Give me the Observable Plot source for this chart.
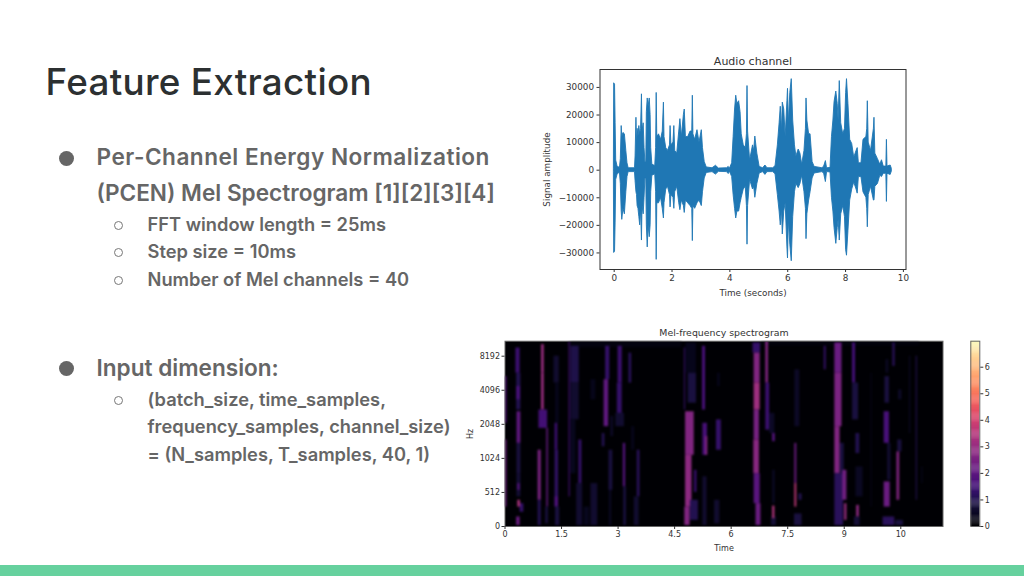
<!DOCTYPE html>
<html><head><meta charset="utf-8">
<script src="https://cdn.jsdelivr.net/npm/d3@7"></script>
<script src="https://cdn.jsdelivr.net/npm/@observablehq/plot@0.6"></script>
<style>
html,body{margin:0;padding:0;background:#fff;width:1024px;height:576px;overflow:hidden}
body{position:relative;font-family:Inter,Lato,sans-serif}
.t{position:absolute;line-height:0;white-space:nowrap;color:#666}
.h{font-size:36.8px;font-weight:500;color:#2c3031;left:45.5px;top:calc(95.7px - .364em);letter-spacing:.3px}
.a{font-size:22.6px;font-weight:600;color:#666;left:96.5px}
.b{font-size:18.3px;font-weight:600;color:#666;left:147.5px}
.dot{position:absolute;left:59.2px;width:15px;height:15px;border-radius:50%;background:#666}
.ring{position:absolute;left:114px;width:7px;height:7px;border-radius:50%;border:1px solid #777;box-sizing:content-box}
.bar{position:absolute;left:0;top:565px;width:1024px;height:11px;background:#66d19e}
.p{position:absolute}
.p svg{display:block;overflow:visible}
.melblur{filter:blur(1.1px)}
</style></head><body>
<div class="t h">Feature Extraction</div>
<div class="dot" style="top:150.8px"></div>
<div class="t a" style="top:calc(165px - .364em);letter-spacing:.5px">Per-Channel Energy Normalization</div>
<div class="t a" style="top:calc(201.5px - .364em)">(PCEN) Mel Spectrogram [1][2][3][4]</div>
<div class="ring" style="top:221px"></div>
<div class="t b" style="top:calc(230.7px - .364em)">FFT window length = 25ms</div>
<div class="ring" style="top:248px"></div>
<div class="t b" style="top:calc(258px - .364em)">Step size = 10ms</div>
<div class="ring" style="top:276px"></div>
<div class="t b" style="top:calc(285.7px - .364em)">Number of Mel channels = 40</div>
<div class="dot" style="top:361.2px"></div>
<div class="t a" style="top:calc(376px - .364em)">Input dimension:</div>
<div class="ring" style="top:396px"></div>
<div class="t b" style="top:calc(406px - .364em)">(batch_size, time_samples,</div>
<div class="t b" style="top:calc(433px - .364em)">frequency_samples, channel_size)</div>
<div class="t b" style="top:calc(460.7px - .364em)">= (N_samples, T_samples, 40, 1)</div>
<div class="bar"></div>
<div class="p" id="audio" style="left:530px;top:50px"></div>
<div class="p" id="mel" style="left:460px;top:325px"></div>
<div class="p" id="cbar" style="left:960px;top:325px"></div>
<script>
// Audio waveform envelope: [seconds, upper, lower]
const audioEnvelope = [
[-0.01,700,-700],[0,31500,-30000],[0.03,31000,-29500],[0.05,17000,-19000],[0.07,3500,-3500],[0.12,1200,-1500],[0.2,900,-900],[0.23,4000,-5000],[0.26,16000,-15000],[0.28,12000,-18000],[0.32,13500,-14000],[0.37,13000,-16000],[0.42,7000,-8000],[0.46,2500,-2500],[0.5,700,-700],[0.72,700,-700],
[0.74,5000,-4000],[0.77,19000,-8000],[0.79,9000,-9000],[0.81,15000,-13000],[0.84,12000,-14000],[0.87,16000,-17000],[0.9,13000,-20000],[0.93,15000,-14000],[0.96,27500,-25500],[0.98,14000,-13000],[1.02,17000,-16000],[1.05,8000,-10000],[1.08,3000,-3000],[1.11,3000,-3000],[1.13,21000,-20000],[1.16,26000,-28000],[1.19,23000,-20000],[1.23,26000,-24300],[1.26,20000,-20000],[1.28,8000,-8000],[1.32,2000,-2000],[1.42,1500,-1500],[1.45,8000,-8000],[1.47,28000,-32500],[1.49,12000,-12000],[1.55,13000,-12000],[1.62,11000,-10000],[1.68,14000,-14000],[1.72,24500,-17500],[1.74,12000,-12000],[1.8,8000,-7000],[1.86,7000,-6000],[1.93,9000,-9000],[1.95,16000,-13500],[1.98,9000,-9000],[2.05,10000,-10000],[2.08,16000,-14000],[2.11,7000,-8000],[2.18,6000,-6000],[2.25,14000,-12000],[2.29,18500,-14500],[2.34,12000,-11000],[2.41,20000,-13000],[2.44,22000,-15500],[2.48,12000,-11000],[2.56,12000,-12000],[2.64,14000,-13000],[2.7,14000,-14000],[2.72,27000,-25700],[2.74,13000,-13000],[2.8,11000,-14000],[2.88,14500,-12000],[2.95,10000,-11000],[3.03,14500,-13000],[3.07,8000,-8000],[3.13,3000,-3000],[3.2,1000,-1000],
[3.4,700,-700],[3.52,1600,-1600],[3.62,600,-600],[3.9,700,-700],[3.96,1200,-1400],[4,500,-500],[4.08,2500,-2500],[4.13,12000,-9000],[4.18,22000,-14000],[4.22,27000,-17500],[4.26,24000,-15000],[4.32,25000,-15000],[4.37,21000,-12000],[4.41,13000,-10000],[4.48,9000,-7000],[4.55,8000,-6000],[4.59,13000,-13000],[4.61,30500,-27000],[4.63,14000,-13000],[4.7,3500,-3500],[4.8,9000,-7000],[4.84,7000,-6000],[4.88,12200,-10000],[4.95,6000,-5000],[5.03,1200,-1200],[5.15,700,-700],[5.23,1700,-1700],[5.3,700,-700],[5.5,700,-700],[5.58,1500,-1500],[5.66,9000,-9000],[5.72,17000,-15000],[5.76,23000,-20000],[5.8,14000,-14000],[5.83,24500,-23300],[5.88,22000,-15000],[5.93,12000,-12000],[5.99,25000,-28000],[6.01,29500,-32000],[6.04,17000,-18000],[6.09,28000,-27000],[6.14,33000,-33000],[6.19,18000,-17000],[6.25,9000,-8000],[6.3,5000,-5000],[6.38,7500,-6500],[6.44,6000,-5000],[6.5,2000,-2000],[6.58,7000,-8000],[6.63,15000,-14000],[6.65,26000,-25000],[6.68,18000,-16000],[6.74,13000,-11000],[6.79,13000,-8000],[6.86,3000,-3000],[6.93,1200,-1200],[7.2,700,-700],[7.26,1300,-1300],[7.32,3300,-4300],[7.36,700,-700],[7.48,800,-800],[7.53,12000,-10000],[7.58,18000,-15000],[7.62,24700,-21000],[7.68,28500,-26700],[7.73,24000,-21000],[7.76,18000,-18000],[7.8,32300,-25500],[7.85,17000,-16000],[7.92,13000,-13000],[7.98,15000,-17000],[8.02,28000,-29000],[8.05,33000,-31000],[8.1,24000,-22000],[8.16,11000,-11000],[8.23,9500,-7000],[8.3,4500,-4500],[8.38,7000,-7000],[8.42,8000,-8500],[8.46,2500,-2500],[8.55,2500,-2500],[8.62,11000,-8000],[8.72,12000,-10000],[8.75,15000,-14000],[8.77,25000,-20700],[8.8,10000,-9000],[8.88,7000,-6000],[8.98,15000,-11000],[9,19000,-11000],[9.03,6000,-6000],[9.12,4000,-5000],[9.2,2000,-2000],[9.26,3600,-2500],[9.32,1300,-1300],[9.41,1300,-1300],[9.43,11000,-11500],[9.45,1300,-1300],[9.56,1700,-1700],[9.6,500,-500]
];
const audioXTicks = [0,2,4,6,8,10];
const audioYTicks = [-30000,-20000,-10000,0,10000,20000,30000];

// Spectrogram energy patches:
// [time start, time end, octave step low, octave step high, value]
const melPatches = [
// dim background washes
[1.75,4.7,5.25,5.44,0.2],[6.8,11,5.3,5.44,0.18],
// 0 - 1.5 s
[-0.01,0.05,3.03,4.4,1.8],[-0.01,0.05,0.57,2.54,2.3],
[0.29,0.4,4.5,5.24,1.4],[0.31,0.42,3.42,4.5,1],[0.31,0.41,3.72,4.11,1.6],[0.32,0.42,2.44,3.37,2],[0.32,0.42,1.55,2.44,0.8],[0.32,0.42,0.87,1.55,0.7],[0.34,0.4,1.06,1.26,1.8],[0.4,0.5,0.42,0.67,1.3],[0.34,0.41,0.57,0.77,3.3],[0.31,0.4,0.03,0.28,2.2],
[0.97,1.04,4.5,5.34,3],[0.97,1.04,3.42,4.5,3],[0.9,1.13,2.88,3.42,1.5],[1.11,1.15,0.57,2.88,2.1],[0.88,0.96,0.77,2.24,2.5],[0.88,0.96,0.03,0.77,1],[1.08,1.15,0.08,0.57,0.8],
[1.3,1.44,4.21,5.0,0.6],[1.34,1.44,3.03,4.21,0.35],[1.33,1.4,2.24,3.03,1.4],[1.33,1.42,0.57,2.24,1.2],[1.33,1.42,0.57,0.87,1.7],[1.34,1.45,0.03,0.57,0.8],
// 1.7 - 3.6 s
[1.75,1.97,4.21,5.29,0.9],[1.75,1.97,3.13,4.21,0.6],[1.75,1.88,1.55,3.13,0.4],[1.9,2.06,0.03,1.26,0.6],[1.96,2.04,1.26,2.54,1.3],[1.7,1.73,0.87,5.44,1.5],
[2.28,2.46,0.03,1.26,0.6],[2.1,2.24,0.03,0.57,0.4],[2.28,2.41,3.72,4.31,0.35],
[2.67,2.78,4.31,5.29,1.3],[2.63,2.75,2.93,4.31,2],[2.58,2.65,2.34,2.73,1],[2.76,2.86,1.06,2.24,0.8],[2.77,2.83,0.03,1.06,0.45],[2.81,2.88,2.64,3.23,0.5],
[3.0,3.11,4.21,5.29,1.4],[2.98,3.11,3.32,4.21,1.3],[2.94,3.17,2.93,3.32,0.6],[3.14,3.2,1.16,2.44,1.8],[3.15,3.22,0.03,1.16,0.8],
[3.29,3.36,4.21,5.09,1.1],[3.36,3.44,2.24,2.93,0.35],[3.51,3.58,0.87,2.24,1.1],[3.43,3.56,0.03,0.87,0.6],
// 4.7 - 5.8 s
[4.76,4.79,3.42,5.24,1.3],[4.8,5.08,4.5,5.39,0.35],[4.86,5.08,3.62,4.5,0.8],[4.79,5.02,2.09,3.37,2.6],[5.03,5.09,1.0,1.65,1.4],[4.79,4.96,0.57,2.09,2.8],[4.77,4.91,0.03,0.57,2.6],[4.92,5.13,0.18,0.77,1],
[5.24,5.32,3.42,5.29,1.6],[5.25,5.37,2.09,3.03,1.6],[5.32,5.38,2.09,2.64,2.6],[5.25,5.36,0.03,1.46,0.6],
[5.61,5.74,2.24,3.13,1.3],[5.64,5.71,4.11,4.5,0.35],[5.56,5.7,0.08,0.77,0.6],
// 6.5 - 7.9 s
[6.58,6.78,5.09,5.39,1.3],[6.61,6.77,4.21,5.09,2.6],[6.61,6.77,3.42,4.21,3.1],[6.61,6.75,2.54,3.42,2.4],[6.6,6.75,1.55,2.54,2.7],[6.61,6.77,0.67,1.55,1.9],[6.66,6.79,0.03,0.67,2.2],
[6.92,6.99,4.21,5.44,2.6],[6.92,7.02,2.83,4.21,1.4],[7.02,7.16,2.73,3.32,0.5],[7.1,7.17,2.49,2.73,1.8],[7.1,7.17,0.67,1.65,0.45],[7.07,7.2,0.03,0.28,0.7],[7.1,7.16,0.23,0.6,3.4],
[7.69,7.82,2.93,4.6,0.5],[7.69,7.74,1.26,2.44,2.2],[7.69,7.74,0.57,1.26,3.6],[7.68,7.88,0.03,0.37,0.8],[7.8,7.88,0.77,0.96,1],
// 8.4 - 11.1 s
[8.47,8.52,4.6,5.29,1.3],
[8.75,8.94,4.5,5.39,2.2],[8.75,8.94,2.93,4.5,2.5],[8.89,9,1.55,2.44,0.8],[8.75,8.89,1.55,2.93,2.6],[8.75,8.98,0.03,1.55,1.1],[8.96,9.07,0.77,1.65,2.3],[9.01,9.07,0.18,0.67,3],
[9.22,9.3,4.21,5.39,1.5],[9.22,9.38,3.13,4.21,0.8],[9.31,9.41,2.14,2.73,1],[9.31,9.5,0.87,1.75,0.45],[9.27,9.42,0.03,0.28,0.7],[9.33,9.4,0.28,0.62,2.8],[9.71,9.74,0.57,4.5,0.3],
[10.11,10.18,4.5,4.9,0.45],[10.08,10.2,3.62,4.4,0.8],[10.06,10.2,2.44,3.37,1.6],[10.15,10.24,1.36,2.44,0.6],[10.06,10.22,0.57,1.31,2.2],[10.03,10.34,0.03,0.28,1.1],
[10.29,10.35,4.7,5.39,1.1],[10.44,10.53,3.72,4.01,0.5],[10.42,10.53,2.19,2.54,0.8],[10.4,10.47,0.77,2.19,2.6],[10.37,10.57,0.03,0.18,0.8],
[10.73,10.76,2.73,5,0.5],[10.91,10.94,0.77,5,1],[11.06,11.09,1.26,1.75,0.4]
];
const melXTicks = [0,1.5,3,4.5,6,7.5,9,10.5];
const melXLabels = ["0","1.5","3","4.5","6","7.5","9","10"];
const melYTicks = [0,1,2,3,4,5];
const melYLabels = ["0","512","1024","2048","4096","8192"];
const colorTicks = [0,1,2,3,4,5,6];
const colorMax = 6.98;

const tickStyle = {fontFamily:"'DejaVu Sans',sans-serif", fontSize:"8.8px", color:"#333", background:"transparent"};
const ink = "#333";

document.getElementById("audio").append(Plot.plot({
  width:390,height:255,marginLeft:69.5,marginRight:14.5,marginTop:19,marginBottom:36,
  style:tickStyle,
  x:{domain:[-0.49,10.09]},
  y:{domain:[-36000,36500]},
  marks:[
    Plot.areaY(audioEnvelope,{x:d=>d[0],y1:d=>d[1],y2:d=>d[2],fill:"#1f77b4",stroke:"#1f77b4",strokeWidth:0.9}),
    Plot.frame({stroke:ink}),
    Plot.axisX({ticks:audioXTicks,tickSize:3,tickPadding:2,stroke:ink,fill:ink,tickFormat:d=>String(d),label:"Time (seconds)",labelAnchor:"center",labelOffset:26,labelArrow:"none"}),
    Plot.axisY({ticks:audioYTicks,tickSize:3,tickPadding:3,stroke:ink,fill:ink,tickFormat:d=>String(d).replace("-","\u2212"),label:"Signal amplitude",labelAnchor:"center",labelOffset:56,labelArrow:"none"}),
    Plot.text(["Audio channel"],{frameAnchor:"top",dy:-12,fontSize:11,fill:ink})
  ]
}));

const colorScale = {type:"linear",scheme:"magma",domain:[0,colorMax]};

const melPlot = Plot.plot({
  width:490,height:230,marginLeft:44.5,marginRight:7.5,marginTop:15.7,marginBottom:29,
  style:{...tickStyle,fontSize:"8px"},
  x:{domain:[0,11.62]},
  y:{domain:[0,5.44]},
  color:colorScale,
  marks:[
    Plot.frame({fill:"#000004",stroke:"none"}),
    Plot.rect(melPatches,{x1:d=>d[0],x2:d=>d[1],y1:d=>d[2],y2:d=>d[3],fill:d=>d[4],clip:"frame"}),
    Plot.frame({stroke:"#666"}),
    Plot.axisX({ticks:melXTicks,tickSize:3,tickPadding:2,stroke:ink,fill:ink,tickFormat:d=>melXLabels[melXTicks.indexOf(d)],label:"Time",labelAnchor:"center",labelOffset:24,labelArrow:"none"}),
    Plot.axisY({ticks:melYTicks,tickSize:3,tickPadding:2,stroke:ink,fill:ink,tickFormat:d=>melYLabels[d],label:"Hz",labelAnchor:"center",labelOffset:38,labelArrow:"none"}),
    Plot.text(["Mel-frequency spectrogram"],{frameAnchor:"top",dy:-12,fontSize:9.4,fill:ink})
  ]
});
// soften only the patch group, the way the low-resolution reference image does
d3.select(melPlot).selectAll("g").each(function(){
  const direct = Array.from(this.children).filter(c => c.tagName === "rect").length;
  if (direct > 50) this.classList.add("melblur");
});
document.getElementById("mel").append(melPlot);

document.getElementById("cbar").append(Plot.plot({
  width:50,height:230,marginLeft:10.3,marginRight:30.7,marginTop:15.7,marginBottom:29,
  style:{...tickStyle,fontSize:"8px"},
  x:{domain:[0,1],axis:null},
  y:{domain:[0,colorMax]},
  color:colorScale,
  marks:[
    Plot.rect(d3.range(0,colorMax,0.04),{x1:0,x2:1,y1:d=>d,y2:d=>Math.min(d+0.05,colorMax),fill:d=>d}),
    Plot.frame({stroke:"#666"}),
    Plot.axisY({anchor:"right",ticks:colorTicks,tickSize:3,tickPadding:2,stroke:ink,fill:ink,tickFormat:d=>String(d),label:null})
  ]
}));
</script>
</body></html>
